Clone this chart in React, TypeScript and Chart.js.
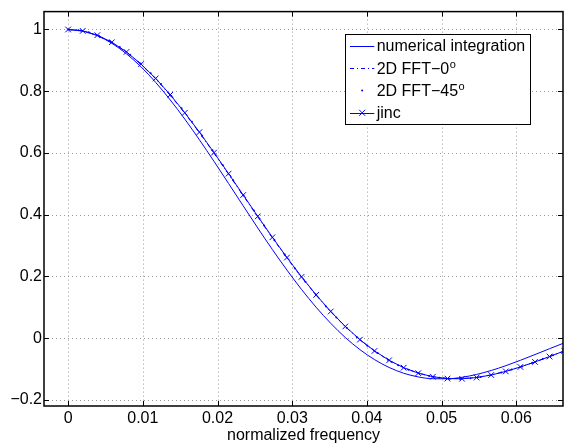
import React, { useEffect, useRef } from "react";
import { Chart, registerables } from "chart.js";

Chart.register(...registerables);

// ---------- data ----------
const freq = [
  0, 0.001953, 0.003906, 0.005859, 0.007813, 0.009766, 0.011719, 0.013672, 0.015625, 0.017578,
  0.019531, 0.021484, 0.023438, 0.025391, 0.027344, 0.029297, 0.03125, 0.033203, 0.035156, 0.037109,
  0.039063, 0.041016, 0.042969, 0.044922, 0.046875, 0.048828, 0.050781, 0.052734, 0.054688, 0.056641,
  0.058594, 0.060547, 0.0625, 0.064453, 0.066406,
];

const numericalIntegration = [
  1, 0.9949, 0.9798, 0.9552, 0.9211, 0.8789, 0.8286, 0.7717, 0.7094, 0.6425,
  0.5726, 0.5009, 0.4285, 0.3568, 0.287, 0.2204, 0.1576, 0.0999, 0.0479, 0.0019,
  -0.0373, -0.0696, -0.0951, -0.1138, -0.1258, -0.1316, -0.1318, -0.1269, -0.1177, -0.1049,
  -0.0894, -0.0719, -0.0533, -0.0343, -0.0156,
];

const fft0 = [
  1, 0.9952, 0.9811, 0.958, 0.9265, 0.8868, 0.8402, 0.7871, 0.7285, 0.6658,
  0.5992, 0.531, 0.4618, 0.3928, 0.325, 0.2594, 0.197, 0.1389, 0.0853, 0.037,
  -0.0056, -0.042, -0.0721, -0.096, -0.1135, -0.1249, -0.1307, -0.1313, -0.1272, -0.1191,
  -0.1076, -0.0934, -0.0773, -0.06, -0.042,
];

const jinc = [
  1, 0.9954, 0.9815, 0.9587, 0.9273, 0.888, 0.8415, 0.7886, 0.7301, 0.6675,
  0.601, 0.5329, 0.4637, 0.3946, 0.3267, 0.261, 0.1985, 0.1401, 0.0863, 0.0378,
  -0.005, -0.0416, -0.0719, -0.0959, -0.1136, -0.1252, -0.1311, -0.1318, -0.1278, -0.1196,
  -0.1079, -0.0935, -0.0772, -0.0597, -0.0416,
];

const freq45 = [
  0, 0.00138, 0.00276, 0.00414, 0.00552, 0.00691, 0.00829, 0.00967, 0.01105, 0.01243,
  0.01381, 0.01519, 0.01657, 0.01795, 0.01934, 0.02072, 0.0221, 0.02348, 0.02486, 0.02624,
  0.02762, 0.029, 0.03038, 0.03177, 0.03315, 0.03453, 0.03591, 0.03729, 0.03867, 0.04005,
  0.04143, 0.04281, 0.04419, 0.04558, 0.04696, 0.04834, 0.04972, 0.0511, 0.05248, 0.05386,
  0.05524, 0.05662, 0.05801, 0.05939, 0.06077, 0.06215, 0.06353, 0.06491, 0.06629,
];

const fft45 = [
  1, 0.9977, 0.9907, 0.9792, 0.9632, 0.9429, 0.9185, 0.8902, 0.8583, 0.823,
  0.7847, 0.745, 0.701, 0.655, 0.609, 0.56, 0.5115, 0.4624, 0.4135, 0.3648,
  0.3173, 0.2708, 0.2255, 0.1826, 0.1416, 0.1024, 0.0668, 0.0336, 0.0026, -0.0245,
  -0.0484, -0.0699, -0.0878, -0.1022, -0.1141, -0.1229, -0.1281, -0.1318, -0.1322, -0.1302,
  -0.1257, -0.1196, -0.1114, -0.1021, -0.0919, -0.0802, -0.0681, -0.0556, -0.0427,
];

const xTicks = [0, 0.01, 0.02, 0.03, 0.04, 0.05, 0.06];
const xTickLabels = ["0", "0.01", "0.02", "0.03", "0.04", "0.05", "0.06"];
const yTicks = [-0.2, 0, 0.2, 0.4, 0.6, 0.8, 1];
const yTickLabels = ["\u22120.2", "0", "0.2", "0.4", "0.6", "0.8", "1"];

const seriesNames = ["numerical integration", "2D FFT\u22120", "2D FFT\u221245", "jinc"];
const seriesSup = ["", "o", "o", ""];
const xTitle = "normalized frequency";

// ---------- styles ----------
const BLUE = "#0000ff";
const FONT = "'Liberation Sans', Arial, Helvetica, sans-serif";

const pts = (xs: number[], ys: number[]) => xs.map((x, i) => ({ x, y: ys[i] }));

const matlabPlugin = {
  id: "matlabFrame",
  beforeDatasetsDraw(chart: any) {
    const { ctx, chartArea: a, scales } = chart;
    ctx.save();
    ctx.strokeStyle = "#9a9a9a";
    ctx.lineWidth = 1;
    ctx.setLineDash([1, 3]);
    xTicks.forEach((v) => {
      const px = Math.round(scales.x.getPixelForValue(v)) + 0.5;
      ctx.beginPath();
      ctx.moveTo(px, a.top);
      ctx.lineTo(px, a.bottom);
      ctx.stroke();
    });
    yTicks.forEach((v) => {
      const py = Math.round(scales.y.getPixelForValue(v)) + 0.5;
      ctx.beginPath();
      ctx.moveTo(a.left, py);
      ctx.lineTo(a.right, py);
      ctx.stroke();
    });
    ctx.restore();
  },
  afterDraw(chart: any) {
    const { ctx, chartArea: a, scales } = chart;
    ctx.save();
    // tick marks inside
    ctx.strokeStyle = "#000";
    ctx.lineWidth = 1;
    ctx.setLineDash([]);
    const tl = 5;
    xTicks.forEach((v) => {
      const px = Math.round(scales.x.getPixelForValue(v)) + 0.5;
      ctx.beginPath();
      ctx.moveTo(px, a.bottom);
      ctx.lineTo(px, a.bottom - tl);
      ctx.moveTo(px, a.top);
      ctx.lineTo(px, a.top + tl);
      ctx.stroke();
    });
    yTicks.forEach((v) => {
      const py = Math.round(scales.y.getPixelForValue(v)) + 0.5;
      ctx.beginPath();
      ctx.moveTo(a.left, py);
      ctx.lineTo(a.left + tl, py);
      ctx.moveTo(a.right, py);
      ctx.lineTo(a.right - tl, py);
      ctx.stroke();
    });
    // axes box
    ctx.lineWidth = 1.5;
    ctx.strokeRect(a.left, a.top, a.right - a.left, a.bottom - a.top);

    // legend
    const bw = 185;
    const bh = 90;
    const bx = a.right - 32.7 - bw;
    const by = a.top + 22;
    ctx.fillStyle = "#fff";
    ctx.fillRect(bx, by, bw, bh);
    ctx.lineWidth = 1;
    ctx.strokeStyle = "#000";
    ctx.strokeRect(Math.round(bx) + 0.5, Math.round(by) + 0.5, bw, bh);

    const pitch = 22.4;
    chart.data.datasets.forEach((ds: any, i: number) => {
      const cy = by + 12 + i * pitch;
      const x1 = bx + 4.7;
      const x2 = bx + 29;
      const cx = (x1 + x2) / 2;
      ctx.strokeStyle = BLUE;
      ctx.fillStyle = BLUE;
      ctx.lineWidth = 1;
      if (ds.showLine !== false) {
        ctx.setLineDash(ds.borderDash || []);
        ctx.beginPath();
        ctx.moveTo(x1, Math.round(cy) + 0.5);
        ctx.lineTo(x2, Math.round(cy) + 0.5);
        ctx.stroke();
        ctx.setLineDash([]);
      }
      if (ds.pointRadius > 0) {
        if (ds.pointStyle === "crossRot") {
          const r = ds.pointRadius * 0.75;
          ctx.beginPath();
          ctx.moveTo(cx - r, cy - r);
          ctx.lineTo(cx + r, cy + r);
          ctx.moveTo(cx - r, cy + r);
          ctx.lineTo(cx + r, cy - r);
          ctx.stroke();
        } else {
          ctx.beginPath();
          ctx.arc(cx, cy, ds.pointRadius, 0, Math.PI * 2);
          ctx.fill();
        }
      }
      // label text
      ctx.fillStyle = "#000";
      ctx.textBaseline = "alphabetic";
      ctx.textAlign = "left";
      ctx.font = `16px ${FONT}`;
      const tx = bx + 31.4;
      const base = cy + 5.6;
      const name = seriesNames[i];
      ctx.fillText(name, tx, base);
      if (seriesSup[i]) {
        const w = ctx.measureText(name).width;
        ctx.font = `11px ${FONT}`;
        ctx.fillText(seriesSup[i], tx + w + 0.5, base - 6);
      }
    });
    ctx.restore();
  },
};

export default function App() {
  const canvasRef = useRef<HTMLCanvasElement | null>(null);

  useEffect(() => {
    document.body.style.margin = "0";
    const canvas = canvasRef.current;
    if (!canvas) return;
    const chart = new Chart(canvas, {
      type: "line",
      data: {
        datasets: [
          {
            label: seriesNames[0],
            data: pts(freq, numericalIntegration),
            borderColor: BLUE,
            borderWidth: 1,
            pointRadius: 0,
            cubicInterpolationMode: "monotone",
            fill: false,
          },
          {
            label: seriesNames[1],
            data: pts(freq, fft0),
            borderColor: BLUE,
            borderWidth: 1,
            borderDash: [4, 3, 1, 3],
            pointRadius: 0,
            fill: false,
          },
          {
            label: seriesNames[2],
            data: pts(freq45, fft45),
            showLine: false,
            borderColor: BLUE,
            backgroundColor: BLUE,
            pointBackgroundColor: BLUE,
            pointBorderWidth: 0,
            pointRadius: 1,
            pointStyle: "circle",
          },
          {
            label: seriesNames[3],
            data: pts(freq, jinc),
            borderColor: BLUE,
            borderWidth: 1,
            pointStyle: "crossRot",
            pointRadius: 4,
            pointBorderColor: BLUE,
            pointBorderWidth: 1,
            fill: false,
          },
        ] as any,
      },
      options: {
        animation: false,
        responsive: false,
        devicePixelRatio: 1,
        layout: { padding: { top: 7, right: 1, left: 0, bottom: 0 } },
        plugins: {
          legend: { display: false },
          tooltip: { enabled: false },
        },
        scales: {
          x: {
            type: "linear",
            min: -0.00323,
            max: 0.06625,
            afterBuildTicks: (s: any) => {
              s.ticks = xTicks.map((v) => ({ value: v }));
            },
            afterFit: (s: any) => {
              s.height = 39;
            },
            grid: { display: false, drawTicks: false },
            border: { display: false },
            ticks: {
              autoSkip: false,
              maxRotation: 0,
              padding: 3,
              color: "#000",
              font: { family: FONT, size: 16 },
              callback: (_v: any, i: number) => xTickLabels[i],
            },
            title: {
              display: true,
              text: xTitle,
              color: "#000",
              font: { family: FONT, size: 16 },
              padding: 0,
            },
          },
          y: {
            type: "linear",
            min: -0.22,
            max: 1.058,
            afterBuildTicks: (s: any) => {
              s.ticks = yTicks.map((v) => ({ value: v }));
            },
            afterFit: (s: any) => {
              s.width = 44;
            },
            grid: { display: false, drawTicks: false },
            border: { display: false },
            ticks: {
              autoSkip: false,
              padding: 2,
              color: "#000",
              font: { family: FONT, size: 16 },
              callback: (_v: any, i: number) => yTickLabels[i],
            },
          },
        },
      } as any,
      plugins: [matlabPlugin],
    });
    return () => chart.destroy();
  }, []);

  return (
    <div style={{ position: "absolute", left: 0, top: 0, width: 568, height: 445 }}>
      <canvas ref={canvasRef} width={568} height={445} />
    </div>
  );
}
